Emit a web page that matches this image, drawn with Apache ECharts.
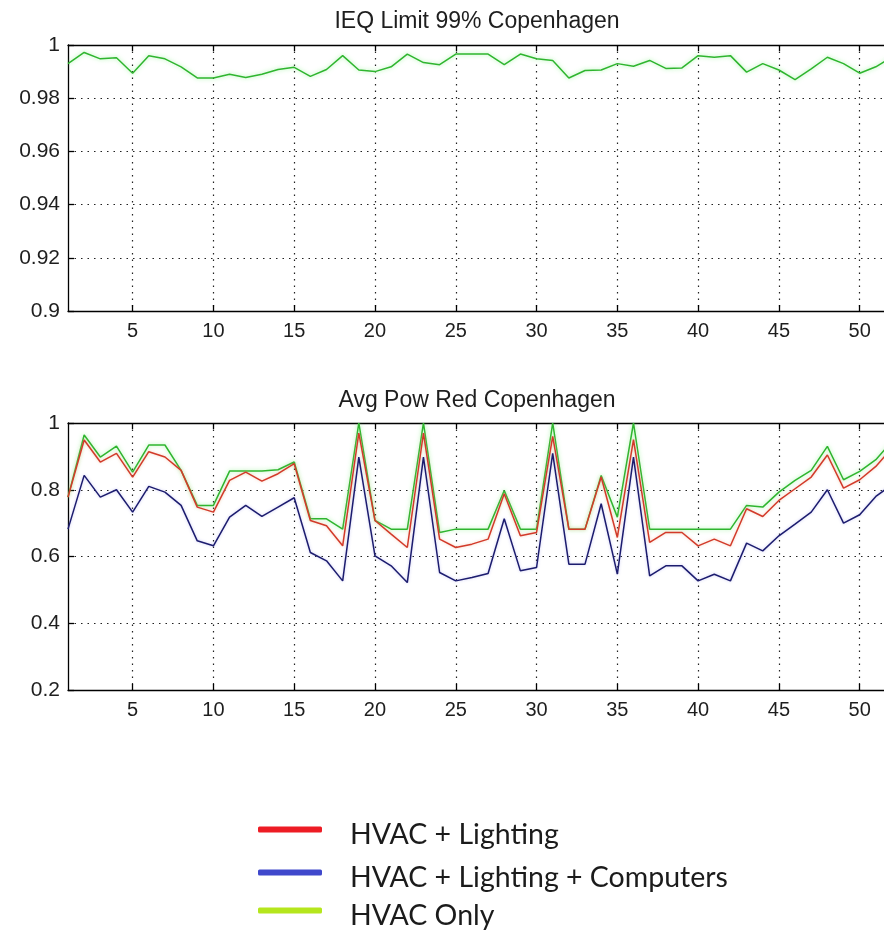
<!DOCTYPE html>
<html>
<head>
<meta charset="utf-8">
<title>Copenhagen weekly results</title>
<script src="https://cdn.jsdelivr.net/npm/echarts@6/dist/echarts.min.js"></script>
<style>
  html, body { margin: 0; padding: 0; background: #ffffff; }
  #chart { width: 884px; height: 930px; }
</style>
</head>
<body>
<div id="chart"></div>
<script>
// Week numbers along both x axes
const weeks = [1, 2, 3, 4, 5, 6, 7, 8, 9, 10, 11, 12, 13, 14, 15, 16, 17, 18, 19, 20,
  21, 22, 23, 24, 25, 26, 27, 28, 29, 30, 31, 32, 33, 34, 35, 36, 37, 38, 39, 40,
  41, 42, 43, 44, 45, 46, 47, 48, 49, 50, 51, 52];

// Weeks that carry a tick, label and grid line
const weekTicks = [5, 10, 15, 20, 25, 30, 35, 40, 45, 50];

// Fraction of time within the IEQ limit (99 %)
const ieqLimit = [0.993, 0.9972, 0.9948, 0.9952, 0.9894, 0.996, 0.9948, 0.9918, 0.9876, 0.9876,
  0.989, 0.9878, 0.989, 0.9908, 0.9916, 0.9882, 0.9908, 0.996, 0.9906, 0.99,
  0.9918, 0.9966, 0.9934, 0.9926, 0.9966, 0.9966, 0.9966, 0.9926, 0.9966, 0.9948,
  0.9942, 0.9876, 0.9904, 0.9906, 0.993, 0.992, 0.9942, 0.9912, 0.9914, 0.996,
  0.9954, 0.996, 0.9898, 0.993, 0.9906, 0.987, 0.991, 0.9954, 0.993, 0.9894,
  0.9918, 0.9955];

// Average power reduction per week
const hvacLighting = [0.778, 0.949, 0.883, 0.909, 0.838, 0.914, 0.898, 0.858, 0.748, 0.733,
  0.828, 0.853, 0.826, 0.848, 0.878, 0.708, 0.692, 0.632, 0.97, 0.708,
  0.667, 0.627, 0.97, 0.652, 0.627, 0.637, 0.652, 0.788, 0.662, 0.672,
  0.96, 0.682, 0.682, 0.838, 0.657, 0.95, 0.642, 0.672, 0.672, 0.632,
  0.652, 0.632, 0.743, 0.72, 0.768, 0.803, 0.838, 0.904, 0.805, 0.83,
  0.87, 0.925];
const hvacLightingComputers = [0.682, 0.843, 0.778, 0.8, 0.733, 0.81, 0.793, 0.753, 0.647, 0.632,
  0.718, 0.753, 0.72, 0.748, 0.776, 0.612, 0.587, 0.527, 0.898, 0.602,
  0.572, 0.522, 0.898, 0.552, 0.527, 0.537, 0.549, 0.713, 0.557, 0.567,
  0.909, 0.577, 0.577, 0.758, 0.547, 0.898, 0.542, 0.572, 0.572, 0.527,
  0.547, 0.527, 0.64, 0.617, 0.662, 0.697, 0.733, 0.8, 0.7, 0.725,
  0.78, 0.815];
const hvacOnly = [0.778, 0.964, 0.898, 0.931, 0.853, 0.934, 0.934, 0.858, 0.753, 0.753,
  0.856, 0.856, 0.856, 0.86, 0.883, 0.713, 0.713, 0.682, 1.0, 0.708,
  0.682, 0.682, 1.0, 0.672, 0.682, 0.682, 0.682, 0.798, 0.682, 0.682,
  1.0, 0.682, 0.682, 0.843, 0.718, 1.0, 0.682, 0.682, 0.682, 0.682,
  0.682, 0.682, 0.753, 0.748, 0.793, 0.828, 0.858, 0.93, 0.83, 0.855,
  0.89, 0.945];

const seriesNames = ['HVAC + Lighting', 'HVAC + Lighting + Computers', 'HVAC Only'];
const legendColors = ['#ed1c24', '#3f48cc', '#b5e61d'];

const FONT = '"Liberation Sans", Arial, sans-serif';
const TEXT = '#1e1e1e';
const gridDots = { color: '#222', width: 1.2, type: [1.5, 5] };
const isTickWeek = (idx, val) => weekTicks.indexOf(Number(val)) !== -1;

function bottomAxis(gridIndex) {
  return {
    type: 'category', gridIndex, data: weeks, boundaryGap: false,
    axisLine: { lineStyle: { color: '#000', width: 1.3 } },
    axisTick: { inside: true, length: 6, interval: isTickWeek, lineStyle: { color: '#000', width: 1.3 } },
    axisLabel: { interval: isTickWeek, color: TEXT, fontFamily: FONT, fontSize: 20, margin: 10 },
    splitLine: { show: true, interval: isTickWeek, lineStyle: gridDots }
  };
}
function topAxis(gridIndex) {
  return {
    type: 'category', gridIndex, data: weeks, boundaryGap: false, position: 'top',
    axisLine: { lineStyle: { color: '#000', width: 1.3 } },
    axisTick: { inside: true, length: 6, interval: isTickWeek, lineStyle: { color: '#000', width: 1.3 } },
    axisLabel: { show: false },
    splitLine: { show: false }
  };
}
function leftAxis(gridIndex, min, max, interval) {
  return {
    type: 'value', gridIndex, min, max, interval,
    axisLine: { show: true, lineStyle: { color: '#000', width: 1.3 } },
    axisTick: { show: true, inside: true, length: 6, lineStyle: { color: '#000', width: 1.3 } },
    axisLabel: { color: TEXT, fontFamily: FONT, fontSize: 21, margin: 8,
      formatter: v => String(+v.toFixed(2)) },
    splitLine: { show: true, lineStyle: gridDots }
  };
}

const chart = echarts.init(document.getElementById('chart'), null, { renderer: 'canvas' });

chart.setOption({
  animation: false,
  backgroundColor: '#ffffff',
  title: [
    { text: 'IEQ Limit 99% Copenhagen', left: 472, top: 5, textAlign: 'center',
      textStyle: { fontFamily: FONT, fontWeight: 'normal', fontSize: 23, color: TEXT } },
    { text: 'Avg Pow Red Copenhagen', left: 472, top: 384, textAlign: 'center',
      textStyle: { fontFamily: FONT, fontWeight: 'normal', fontSize: 23, color: TEXT } }
  ],
  // the plot boxes run past the right edge of the page, as in the original figure
  grid: [
    { left: 68, width: 824, top: 45, height: 266, outerBoundsMode: 'none' },
    { left: 68, width: 824, top: 423, height: 267, outerBoundsMode: 'none' }
  ],
  xAxis: [bottomAxis(0), topAxis(0), bottomAxis(1), topAxis(1)],
  yAxis: [leftAxis(0, 0.9, 1, 0.02), leftAxis(1, 0.2, 1, 0.2)],
  legend: seriesNames.map((name, i) => ({
    data: [{ name, itemStyle: { color: legendColors[i] } }],
    icon: 'roundRect',
    left: 258,
    top: [810, 853, 891][i],
    padding: 0,
    itemWidth: 64,
    itemHeight: 6,
    selectedMode: false,
    formatter: n => '{t|' + n + '}',
    textStyle: {
      rich: {
        t: { fontFamily: 'Lato, "Open Sans", sans-serif', fontSize: 28.5, color: '#1b1b1b',
          lineHeight: 32, padding: [10, 0, 0, 23] }
      }
    }
  })),
  series: [
    { name: 'IEQ Limit 99%', type: 'line', xAxisIndex: 0, yAxisIndex: 0, data: ieqLimit,
      showSymbol: false, z: 3,
      lineStyle: { color: '#2fb52f', width: 1.5, shadowBlur: 4, shadowColor: 'rgba(90,235,90,0.55)' },
      itemStyle: { color: '#2fb52f' } },
    { name: 'HVAC Only', type: 'line', xAxisIndex: 2, yAxisIndex: 1, data: hvacOnly,
      showSymbol: false, z: 3,
      lineStyle: { color: '#2fb52f', width: 1.5, shadowBlur: 4, shadowColor: 'rgba(90,235,90,0.55)' },
      itemStyle: { color: '#2fb52f' } },
    { name: 'HVAC + Lighting', type: 'line', xAxisIndex: 2, yAxisIndex: 1, data: hvacLighting,
      showSymbol: false, z: 4,
      lineStyle: { color: '#d23a2a', width: 1.5, shadowBlur: 3, shadowColor: 'rgba(240,160,120,0.5)' },
      itemStyle: { color: '#d23a2a' } },
    { name: 'HVAC + Lighting + Computers', type: 'line', xAxisIndex: 2, yAxisIndex: 1, data: hvacLightingComputers,
      showSymbol: false, z: 5,
      lineStyle: { color: '#1c1c6e', width: 1.5, shadowBlur: 3, shadowColor: 'rgba(140,140,230,0.45)' },
      itemStyle: { color: '#1c1c6e' } }
  ]
});
</script>
</body>
</html>
